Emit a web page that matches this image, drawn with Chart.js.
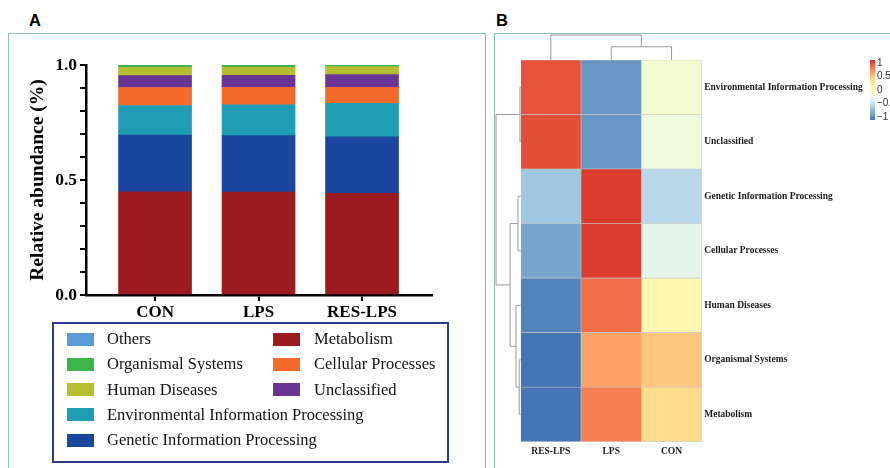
<!DOCTYPE html>
<html>
<head>
<meta charset="utf-8">
<script src="https://cdn.jsdelivr.net/npm/chart.js@4.4.1/dist/chart.umd.min.js"></script>
<style>
body { margin: 0; background: #fff; width: 890px; height: 468px; overflow: hidden; position: relative; font-family: "Liberation Serif", "Times New Roman", serif; }
.panel { position: absolute; border: 1.5px solid #86c3ad; }
.tag { position: absolute; font: bold 16.5px "Liberation Sans", Arial, sans-serif; color: #000; }
canvas { position: absolute; }
#legendA { position: absolute; left: 52px; top: 322px; width: 393px; height: 137px; border: 2px solid #2e3a87; }
#legendA .sw { position: absolute; width: 27px; height: 13px; }
#legendA .lb { position: absolute; font-size: 16.5px; line-height: 20px; color: #111; white-space: nowrap; }
</style>
</head>
<body>
<div class="panel" style="left:8px; top:33px; width:476px; height:460px;"></div>
<div class="panel" style="left:494px; top:33px; width:420px; height:460px;"></div>
<div class="tag" style="left:29px; top:11px;">A</div>
<div class="tag" style="left:496px; top:11px;">B</div>
<canvas id="barChart" width="490" height="330" style="left:0; top:0;"></canvas>
<div id="legendA"></div>
<canvas id="heatChart" width="400" height="468" style="left:490px; top:0;"></canvas>
<script>
// Panel A data
var groups = ['CON', 'LPS', 'RES-LPS'];
var metabolism = [0.449, 0.448, 0.442];
var genetic = [0.246, 0.245, 0.246];
var environmental = [0.129, 0.134, 0.145];
var cellular = [0.078, 0.076, 0.070];
var unclassified = [0.052, 0.052, 0.055];
var humanDiseases = [0.035, 0.035, 0.035];
var organismal = [0.010, 0.010, 0.007];
var others = [0.001, 0.000, 0.000];
var yLabels = [0, 0.5, 1.0];

// Panel B data
var heatCols = ['RES-LPS', 'LPS', 'CON'];
var heatRows = ['Environmental Information Processing', 'Unclassified', 'Genetic Information Processing',
    'Cellular Processes', 'Human Diseases', 'Organismal Systems', 'Metabolism'];
var zEnvironmental = [0.98, -0.95, -0.12];
var zUnclassified = [1.00, -0.95, -0.19];
var zGenetic = [-0.68, 1.07, -0.56];
var zCellular = [-0.88, 1.07, -0.29];
var zHuman = [-1.05, 0.87, 0.10];
var zOrganismal = [-1.12, 0.65, 0.49];
var zMetabolism = [-1.12, 0.80, 0.39];
var colorbarTicks = [1, 0.5, 0, -0.5, -1];
var colorbarLabels = ['1', '0.5', '0', '\u22120.5', '\u22121'];

// dendrograms (hclust style: negative = leaf, positive = earlier merge)
var colMerge = [[-2, -3], [-1, 1]];
var colHeight = [0.53, 1.0];
var rowMerge = [[-1, -2], [-6, -7], [-3, -4], [-5, 2], [3, 4], [1, 5]];
var rowHeight = [0.03, 0.06, 0.11, 0.19, 0.43, 1.0];

var serif = '"Liberation Serif", "Times New Roman", serif';

// Chart A
var stackSeries = [
    { label: 'Metabolism', data: metabolism, color: '#9b1b21' },
    { label: 'Genetic Information Processing', data: genetic, color: '#1a479d' },
    { label: 'Environmental Information Processing', data: environmental, color: '#1e9db4' },
    { label: 'Cellular Processes', data: cellular, color: '#f36a2b' },
    { label: 'Unclassified', data: unclassified, color: '#6a3494' },
    { label: 'Human Diseases', data: humanDiseases, color: '#b8be31' },
    { label: 'Organismal Systems', data: organismal, color: '#3db54a' },
    { label: 'Others', data: others, color: '#5b9bd5' }
];

var ctx = document.getElementById('barChart').getContext('2d');
var barChart = new Chart(ctx,
{
    type: 'bar',
    data:
    {
        datasets: stackSeries.map(function (s)
        {
            return {
                label: s.label,
                data: s.data.map(function (v, i) { return { x: i, y: v }; }),
                backgroundColor: s.color,
                borderWidth: 0,
                barThickness: 73
            };
        })
    },
    options:
    {
        responsive: false,
        animation: false,
        layout: { padding: { top: 65, right: 58, left: 0, bottom: 0 } },
        plugins: { legend: { display: false }, tooltip: { enabled: false } },
        scales:
        {
            x:
            {
                type: 'linear',
                stacked: true,
                offset: false,
                min: -0.667,
                max: 2.676,
                afterBuildTicks: function (axis)
                {
                    axis.ticks = groups.map(function (g, i) { return { value: i }; });
                },
                afterFit: function (axis) { axis.height = 35; },
                ticks:
                {
                    callback: function (v) { return groups[v]; },
                    font: { family: serif, size: 17, weight: 'bold' },
                    color: '#000',
                    padding: 1,
                    maxRotation: 0
                },
                grid: { drawOnChartArea: false, offset: false, color: '#000', lineWidth: 2, tickLength: 6 },
                border: { color: '#000', width: 2.5 }
            },
            y:
            {
                stacked: true,
                min: 0,
                max: 1,
                ticks:
                {
                    stepSize: 0.1,
                    autoSkip: false,
                    callback: function (v)
                    {
                        for (var i = 0; i < yLabels.length; i++)
                        {
                            if (Math.abs(v - yLabels[i]) < 1e-6) return yLabels[i].toFixed(1);
                        }
                        return '';
                    },
                    font: { family: serif, size: 17.5, weight: 'bold' },
                    color: '#000',
                    padding: 3
                },
                afterFit: function (axis) { axis.width = 86; },
                title:
                {
                    display: true,
                    text: 'Relative abundance (%)',
                    font: { family: serif, size: 19.5, weight: 'bold' },
                    color: '#000',
                    padding: { top: 26, bottom: 0 }
                },
                grid: { drawOnChartArea: false, color: '#000', lineWidth: 2, tickLength: 6 },
                border: { color: '#000', width: 2.5 }
            }
        }
    }
});

// Legend A
var legendOrder = [
    ['Others', 'Organismal Systems', 'Human Diseases', 'Environmental Information Processing', 'Genetic Information Processing'],
    ['Metabolism', 'Cellular Processes', 'Unclassified']
];
var legendBox = document.getElementById('legendA');
legendOrder.forEach(function (col, c)
{
    col.forEach(function (name, r)
    {
        var s = stackSeries.filter(function (d) { return d.label === name; })[0];
        var top = 15 + r * 25.3;
        var sw = document.createElement('div');
        sw.className = 'sw';
        sw.style.background = s.color;
        sw.style.left = (c === 0 ? 13 : 219) + 'px';
        sw.style.top = (top - 6.5) + 'px';
        var lb = document.createElement('div');
        lb.className = 'lb';
        lb.textContent = name;
        lb.style.left = (c === 0 ? 53 : 260) + 'px';
        lb.style.top = (top - 10) + 'px';
        legendBox.appendChild(sw);
        legendBox.appendChild(lb);
    });
});

// Chart B (heatmap)
var palette = ['#4575b4', '#91bfdb', '#e0f3f8', '#ffffbf', '#fee090', '#fc8d59', '#d73027'];
var zLimit = 1.12;

function hexRgb(h)
{
    return [parseInt(h.substr(1, 2), 16), parseInt(h.substr(3, 2), 16), parseInt(h.substr(5, 2), 16)];
}

function heatColor(v)
{
    var t = (Math.max(-zLimit, Math.min(zLimit, v)) + zLimit) / (2 * zLimit) * (palette.length - 1);
    var i = Math.min(Math.floor(t), palette.length - 2);
    var f = t - i;
    var a = hexRgb(palette[i]), b = hexRgb(palette[i + 1]);
    return 'rgb(' + Math.round(a[0] + (b[0] - a[0]) * f) + ',' + Math.round(a[1] + (b[1] - a[1]) * f) + ',' + Math.round(a[2] + (b[2] - a[2]) * f) + ')';
}

var heatValues = [zEnvironmental, zUnclassified, zGenetic, zCellular, zHuman, zOrganismal, zMetabolism];

function drawTree(c, merge, heights, leafPos, base, span, vertical)
{
    var pos = [], hts = [];
    function at(k) { return k < 0 ? [leafPos[-k - 1], 0] : [pos[k - 1], hts[k - 1]]; }
    c.beginPath();
    merge.forEach(function (m, i)
    {
        var a = at(m[0]), b = at(m[1]), h = heights[i];
        var d = base - h * span, da = base - a[1] * span, db = base - b[1] * span;
        if (vertical)
        {
            c.moveTo(a[0], da); c.lineTo(a[0], d); c.lineTo(b[0], d); c.lineTo(b[0], db);
        }
        else
        {
            c.moveTo(da, a[0]); c.lineTo(d, a[0]); c.lineTo(d, b[0]); c.lineTo(db, b[0]);
        }
        pos.push((a[0] + b[0]) / 2);
        hts.push(h);
    });
    c.stroke();
}

var heatExtras = {
    id: 'heatExtras',
    afterDraw: function (chart)
    {
        var c = chart.ctx, area = chart.chartArea, xs = chart.scales.x, ys = chart.scales.y;
        c.save();
        c.strokeStyle = '#9a9a9a';
        c.lineWidth = 1;
        var colPos = heatCols.map(function (n, i) { return xs.getPixelForValue(i); });
        var rowPos = heatRows.map(function (n, i) { return ys.getPixelForValue(heatRows.length - 0.5 - i); });
        drawTree(c, colMerge, colHeight, colPos, area.top, 25, true);
        drawTree(c, rowMerge, rowHeight, rowPos, area.left, 24.7, false);

        // colour key
        var kx = 380, kw = 5, ky = area.top, kh = 60;
        var grad = c.createLinearGradient(0, ky + kh, 0, ky);
        for (var i = 0; i <= 20; i++)
        {
            grad.addColorStop(i / 20, heatColor(-zLimit + 2 * zLimit * i / 20));
        }
        c.fillStyle = grad;
        c.fillRect(kx, ky, kw, kh);
        c.fillStyle = '#333';
        c.font = '10px "Liberation Sans", Arial, sans-serif';
        c.textBaseline = 'middle';
        colorbarTicks.forEach(function (v, i)
        {
            var y = ky + (zLimit - v) / (2 * zLimit) * kh;
            c.fillText(colorbarLabels[i], kx + 7, y);
        });
        c.restore();
    }
};

var ctx2 = document.getElementById('heatChart').getContext('2d');
var heatChart = new Chart(ctx2,
{
    type: 'bar',
    data:
    {
        labels: heatCols,
        datasets: heatRows.map(function (name, r)
        {
            return {
                label: name,
                data: heatCols.map(function () { return 1; }),
                backgroundColor: heatValues[r].map(heatColor),
                borderColor: '#c4c4c4',
                borderWidth: 0.6,
                borderSkipped: false,
                categoryPercentage: 1,
                barPercentage: 1
            };
        }).reverse()
    },
    options:
    {
        responsive: false,
        animation: false,
        layout: { padding: { top: 60, left: 30.7, right: 0, bottom: 0 } },
        plugins: { legend: { display: false }, tooltip: { enabled: false } },
        scales:
        {
            x:
            {
                stacked: true,
                afterFit: function (axis) { axis.height = 26.3; },
                ticks: { font: { family: serif, size: 9.5, weight: 'bold' }, color: '#1a1a1a', padding: 4, maxRotation: 0 },
                grid: { display: false, drawTicks: false, tickLength: 0 },
                border: { display: false }
            },
            y:
            {
                stacked: true,
                position: 'right',
                min: 0,
                max: heatRows.length,
                afterBuildTicks: function (axis)
                {
                    axis.ticks = heatRows.map(function (n, i) { return { value: heatRows.length - 0.5 - i }; });
                },
                afterFit: function (axis) { axis.width = 188.3; },
                ticks:
                {
                    autoSkip: false,
                    callback: function (v) { return heatRows[Math.round(heatRows.length - 0.5 - v)]; },
                    font: { family: serif, size: 9.5, weight: 'bold' },
                    color: '#1a1a1a',
                    padding: 2.5
                },
                grid: { display: false, drawTicks: false, tickLength: 0 },
                border: { display: false }
            }
        }
    },
    plugins: [heatExtras]
});
</script>
</body>
</html>
